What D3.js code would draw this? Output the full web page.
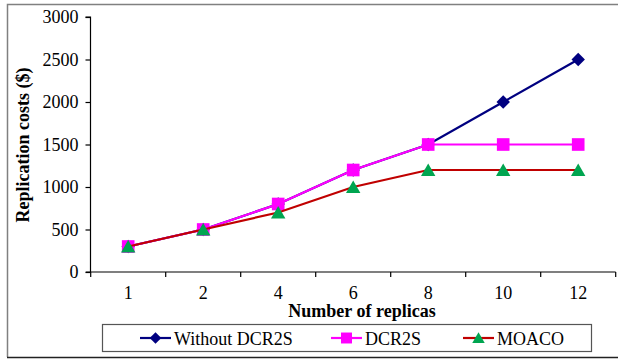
<!DOCTYPE html>
<html>
<head>
<meta charset="utf-8">
<script src="https://cdn.jsdelivr.net/npm/d3@7"></script>
<style>
  body { margin: 0; background: #fff; }
  text { font-family: "Liberation Serif", "Times New Roman", serif; }
</style>
</head>
<body>
<svg id="chart" width="618" height="360"></svg>
<script>
// data
const replicas = ['1', '2', '4', '6', '8', '10', '12'];
const withoutDCR2S = [300, 500, 800, 1200, 1500, 2000, 2500];
const dcr2s = [300, 500, 800, 1200, 1500, 1500, 1500];
const moaco = [300, 500, 700, 1000, 1200, 1200, 1200];
const yTicks = [0, 500, 1000, 1500, 2000, 2500, 3000];

// rotated square for the diamond marker (Excel style)
const diamond = {
	draw(ctx, size) {
		const r = Math.sqrt(size / 2);
		ctx.moveTo(0, -r);
		ctx.lineTo(r, 0);
		ctx.lineTo(0, r);
		ctx.lineTo(-r, 0);
		ctx.closePath();
	}
};

const series = [
	{name: 'Without DCR2S', values: withoutDCR2S, line: '#000080', fill: '#000080', shape: diamond, size: 90, dy: 0},
	{name: 'DCR2S', values: dcr2s, line: '#ff00ff', fill: '#ff00ff', shape: d3.symbolSquare, size: 160, dy: 0},
	{name: 'MOACO', values: moaco, line: '#c00000', fill: '#00a550', shape: d3.symbolTriangle, size: 90, dy: 1.8}
];

const svg = d3.select('#chart');

// outer frame (right edge falls off the picture)
svg.append('path')
	.attr('d', 'M 625 4.5 H 7.5 V 357')
	.attr('fill', 'none')
	.attr('stroke', '#808080')
	.attr('stroke-width', 1.5);
svg.append('line')
	.attr('x1', 7).attr('x2', 618)
	.attr('y1', 357.5).attr('y2', 357.5)
	.attr('stroke', '#222')
	.attr('stroke-width', 1.5);

const x = d3.scaleBand()
	.domain(replicas)
	.range([90.7, 615.7]);

const y = d3.scaleLinear()
	.domain([0, 3000])
	.range([272, 17]);

// y axis
const gY = svg.append('g')
	.attr('transform', 'translate(90.5,0)')
	.call(d3.axisLeft(y).tickValues(yTicks).tickFormat(d3.format('d')).tickSize(5).tickPadding(7));
gY.select('.domain').attr('d', 'M-5,' + y(3000) + 'H0V' + y(0));

// x axis
const gX = svg.append('g')
	.attr('transform', 'translate(0,272)')
	.call(d3.axisBottom(x).tickSize(0).tickPadding(14));
gX.select('.domain').attr('d', 'M' + (x.range()[0] - 5) + ',0H' + x.range()[1]);
gX.selectAll('.tickmark')
	.data(replicas.concat(['end'])).enter()
	.append('line')
	.attr('class', 'tickmark')
	.attr('x1', (d, i) => i < replicas.length ? x(d) : x.range()[1])
	.attr('x2', (d, i) => i < replicas.length ? x(d) : x.range()[1])
	.attr('y1', 0).attr('y2', 5)
	.attr('stroke', '#000');

[gX, gY].forEach(g => {
	g.selectAll('text')
		.attr('font-size', 18)
		.attr('fill', '#000');
	g.selectAll('line, path').attr('stroke', '#000').attr('stroke-width', 1.2);
});

// axis titles
svg.append('text')
	.attr('transform', 'translate(29,145) rotate(-90)')
	.attr('text-anchor', 'middle')
	.attr('font-size', 18)
	.attr('font-weight', 'bold')
	.text('Replication costs ($)');

svg.append('text')
	.attr('x', 362)
	.attr('y', 317)
	.attr('text-anchor', 'middle')
	.attr('font-size', 18)
	.attr('font-weight', 'bold')
	.text('Number of replicas');

const cx = d => x(d) + x.bandwidth() / 2;
const line = d3.line()
	.x((v, i) => cx(replicas[i]))
	.y(v => y(v));

series.forEach(s => {
	const g = svg.append('g').attr('class', 'series');
	g.append('path')
		.attr('d', line(s.values))
		.attr('fill', 'none')
		.attr('stroke', s.line)
		.attr('stroke-width', 2.2);
	g.selectAll('.pt')
		.data(s.values).enter()
		.append('path')
		.attr('class', 'pt')
		.attr('transform', (v, i) => 'translate(' + cx(replicas[i]) + ',' + (y(v) + s.dy) + ')')
		.attr('d', d3.symbol().type(s.shape).size(s.size))
		.attr('fill', s.fill);
});

// legend
const legend = svg.append('g').attr('class', 'legend');
legend.append('rect')
	.attr('x', 102.5).attr('y', 324.5)
	.attr('width', 489).attr('height', 27)
	.attr('fill', '#fff')
	.attr('stroke', '#555')
	.attr('stroke-width', 1.2);

const legendX = [140, 331, 463];
series.forEach((s, i) => {
	const g = legend.append('g').attr('transform', 'translate(' + legendX[i] + ',338)');
	g.append('line')
		.attr('x1', 0).attr('x2', 31)
		.attr('stroke', s.line)
		.attr('stroke-width', 2.2);
	g.append('path')
		.attr('transform', 'translate(15.5,' + s.dy * 0.8 + ')')
		.attr('d', d3.symbol().type(s.shape).size(s.size * 0.75))
		.attr('fill', s.fill);
	g.append('text')
		.attr('x', 34)
		.attr('y', 6.5)
		.attr('font-size', 18)
		.text(s.name);
});
</script>
</body>
</html>
